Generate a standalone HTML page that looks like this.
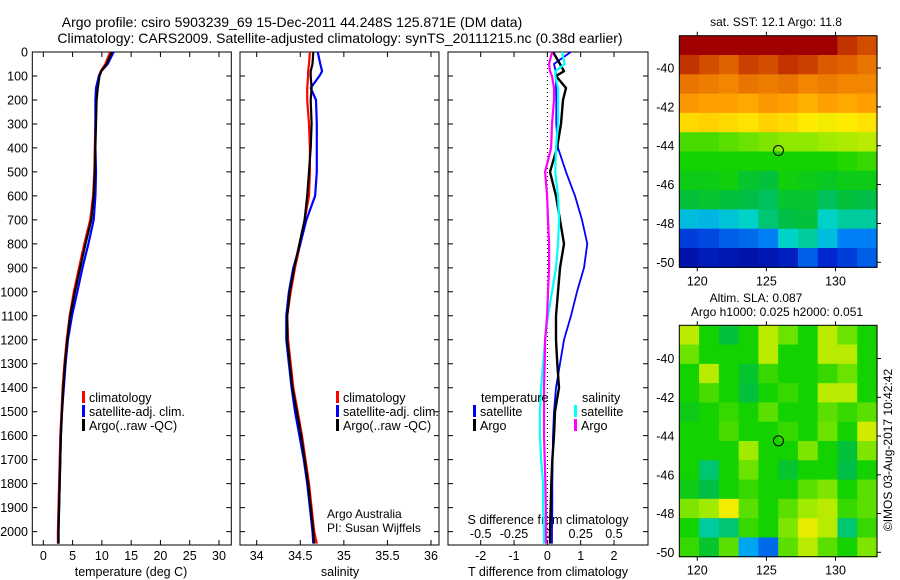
<!DOCTYPE html>
<html><head><meta charset="utf-8"><style>
body{margin:0;background:#fff}
svg{display:block;font-family:"Liberation Sans",sans-serif}
</style></head><body>
<svg id="c" width="900" height="580" viewBox="0 0 900 580" xmlns="http://www.w3.org/2000/svg">
<text x="292" y="27" font-size="14" text-anchor="middle">Argo profile: csiro 5903239_69 15-Dec-2011 44.248S 125.871E (DM data)</text>
<text x="340" y="43" font-size="14" text-anchor="middle">Climatology: CARS2009. Satellite-adjusted climatology: synTS_20111215.nc (0.38d earlier)</text>
<text x="776" y="26" font-size="12" text-anchor="middle">sat. SST: 12.1 Argo: 11.8</text>
<text x="756" y="302" font-size="12" text-anchor="middle">Altim. SLA: 0.087</text>
<text x="777" y="316" font-size="12" text-anchor="middle">Argo h1000: 0.025 h2000: 0.051</text>
<text transform="translate(892,450) rotate(-90)" font-size="12" text-anchor="middle">©IMOS 03-Aug-2017 10:42:42</text>
<text x="327" y="518" font-size="12">Argo Australia</text>
<text x="327" y="532" font-size="12">PI: Susan Wijffels</text>
</svg>
<script>
const depths=[0,50,80,100,150,200,300,400,500,600,700,800,900,1000,1100,1200,1300,1400,1500,1600,1700,1800,1900,2000,2050];
const tempClim=[11.4,10.6,9.8,9.5,9.1,9.0,8.9,8.8,8.7,8.5,8.0,7.0,6.1,5.2,4.5,4.0,3.6,3.3,3.1,2.9,2.8,2.7,2.6,2.5,2.5];
const tempSat=[12.0,11.0,9.9,9.5,9.0,8.9,8.9,8.9,9.0,8.9,8.6,7.7,6.7,5.8,4.9,4.2,3.8,3.5,3.2,3.0,2.9,2.8,2.7,2.6,2.6];
const tempArgo=[11.7,10.8,9.9,9.6,9.3,9.1,9.0,8.9,8.8,8.6,8.2,7.2,6.3,5.4,4.6,4.1,3.7,3.4,3.2,3.0,2.9,2.8,2.7,2.6,2.6];
const salClim=[34.61,34.6,34.59,34.59,34.58,34.58,34.6,34.61,34.61,34.6,34.55,34.5,34.44,34.39,34.35,34.36,34.39,34.42,34.47,34.52,34.56,34.6,34.63,34.66,34.69];
const salSat=[34.7,34.73,34.75,34.72,34.62,34.68,34.69,34.69,34.69,34.67,34.57,34.5,34.42,34.37,34.34,34.34,34.37,34.4,34.44,34.49,34.54,34.58,34.61,34.64,34.65];
const salArgo=[34.65,34.64,34.62,34.62,34.63,34.62,34.63,34.62,34.6,34.58,34.55,34.49,34.43,34.38,34.35,34.35,34.38,34.41,34.46,34.51,34.55,34.59,34.62,34.65,34.66];
const dTsat=[0.7,0.2,0.25,0.26,0.26,0.27,0.27,0.32,0.56,0.83,1.04,1.2,1.1,0.89,0.71,0.5,0.38,0.26,0.2,0.17,0.16,0.15,0.15,0.14,0.14];
const dTargo=[0.17,0.38,0.5,0.26,0.56,0.47,0.41,0.29,0.08,0.26,0.38,0.5,0.38,0.32,0.26,0.26,0.3,0.35,0.23,0.2,0.15,0.12,0.1,0.08,0.08];
const dSsat=[0.11,0.13,0.06,0.06,0.08,0.08,0.08,0.065,0.06,0.08,0.088,0.08,0.065,0.035,0.005,-0.017,-0.032,-0.047,-0.055,-0.055,-0.047,-0.032,-0.032,-0.025,-0.025];
const dSargo=[0.035,0.013,0.02,0.035,0.05,0.05,0.035,0.028,-0.017,-0.002,0.005,0.013,0.013,0.005,-0.002,-0.017,-0.02,-0.025,-0.025,-0.025,-0.02,-0.015,-0.012,-0.01,-0.01];
const depthTicks=[0,100,200,300,400,500,600,700,800,900,1000,1100,1200,1300,1400,1500,1600,1700,1800,1900,2000];
const tempTicks=[0,5,10,15,20,25,30];
const salTicks=[34,34.5,35,35.5,36];
const dTTicks=[-2,-1,0,1,2];
const dSTicks=[-0.5,-0.25,0,0.25,0.5];
const lonTicks=[120,125,130];
const sstLatTicks=[-40,-42,-44,-46,-48,-50];
const slaLatTicks=[-40,-42,-44,-46,-48,-50];
const argoLon=125.871, argoLat=-44.248;
const sstGrid=[
[8,8,8,8,8,8,8,8,7.6,7.4],
[7.6,7.4,7.2,7.5,7.4,7.6,7.5,7.3,7.2,7],
[7,6.9,6.8,7,6.9,7,6.8,6.9,6.8,6.8],
[6.6,6.5,6.5,6.4,6.6,6.5,6.3,6.5,6.4,6.5],
[5.8,5.9,5.8,5.7,5.9,5.8,5.6,5.5,5.6,5.7],
[4.3,4.3,4.4,4.5,4.6,4.7,4.7,4.8,4.9,5.0],
[4,4,4,4,4,4,4,4,4.1,4.2],
[3.8,3.8,3.9,3.6,3.5,3.9,3.8,3.7,3.8,3.8],
[3.5,3.6,3.5,3.4,3.3,3.6,3.6,3.3,3.5,3.4],
[2.5,2.4,2.6,2.8,3.2,3.4,3.5,2.8,3,3],
[1.2,1.3,1.5,1.6,1.8,2.8,3,2.5,1.8,1.8],
[0.5,0.7,0.6,0.5,0.6,0.8,1.5,1,1.2,1.5]];
const slaGrid=[
[5,4,3.5,4,5,4.5,4,5,4.5,4],
[4.5,4,4,4,5,4,4,5,5,4],
[4,5,4,3.6,4.2,4,4,4.2,4.5,4],
[4,4.3,4,3.5,4,4.2,4,5,5,4],
[3.8,4,4.2,4,4.4,4,4,4.4,4.2,4.4],
[4,4,4.3,4,4,4.2,4,4.5,4,5.2],
[4,4,4,4.8,4,4,4.6,4,3.5,4.6],
[4,3.2,4,4.5,4,3.6,4,4,3.4,4],
[3.8,3.4,4,4.2,4,4,4.4,4.6,4,4.4],
[4.6,4.8,5.5,4.4,4,4.4,4.8,5,4.2,4.4],
[4,3,3.2,4.2,4,4.6,5.4,5,3.2,4.2],
[4.2,3.6,4.4,2.2,1.6,4.4,5,4.4,4,4.6]];

const NS='http://www.w3.org/2000/svg';
const svg=document.getElementById('c');
function mk(tag,attrs,parent){const e=document.createElementNS(NS,tag);for(const k in attrs)e.setAttribute(k,attrs[k]);(parent||svg).appendChild(e);return e;}
const Y0=52,Y1=545;
const yD=d=>Y0+d*0.2398;
function lin(v0,p0,v1,p1){return v=>p0+(v-v0)*(p1-p0)/(v1-v0);}
const xT=lin(0,43.3,30,219);
const xS=lin(34,256.7,36,431);
const xdT=lin(-2,480.7,2,614);
const xdS=lin(-0.5,480.7,0.5,614);

function frame(x0,x1,name){
  const r=mk('rect',{x:x0,y:Y0,width:x1-x0,height:Y1-Y0,fill:'none',stroke:'#000','stroke-width':1});
  
  
  depthTicks.forEach(d=>{const y=yD(d);
    const t=mk('path',{d:`M${x0} ${y}h5M${x1} ${y}h-5`,stroke:'#000'});
    
    });
}
function xticks(x0,x1,ticks,fx,name,labelY){
  ticks.forEach(v=>{const x=fx(v);
    const t=mk('path',{d:`M${x} ${Y1}v-5M${x} ${Y0}v5`,stroke:'#000'});
    
    
    const l=mk('text',{x:x,y:labelY,'font-size':12.5,'text-anchor':'middle'});l.textContent=(v<0?'-':'')+String(Math.abs(v));
    
    
  });
}
function line(xs,fx,color,name,w){
  const pts=depths.map((d,i)=>fx(xs[i]).toFixed(1)+','+yD(d).toFixed(1)).join(' ');
  const p=mk('polyline',{points:pts,fill:'none',stroke:color,'stroke-width':w||2.2,'stroke-linejoin':'round'});
  
  
}
function label(x,y,txt,name,size,anchor){const t=mk('text',{x:x,y:y,'font-size':size||12.5,'text-anchor':anchor||'start'});t.textContent=txt;
  
  return t;}
function key(x,y,color,txt,name){
  const r=mk('rect',{x:x,y:y-11,width:3,height:12,fill:color});
  
  
  label(x+7,y,txt,name);
}

frame(32.3,231.3,'temperature-panel');
depthTicks.forEach(d=>{label(28,yD(d)+4.5,String(d),'depth-label',12.5,'end');});
xticks(32,231,tempTicks,xT,'temperature-x',560);
label(131,576,'temperature (deg C)','temperature-axis-title',12.5,'middle');
line(tempClim,xT,'#f00','temperature-climatology-line');
line(tempSat,xT,'#00f','temperature-satellite-line');
line(tempArgo,xT,'#000','temperature-argo-line');
key(82,402,'#f00','climatology','legend-climatology');
key(82,416,'#00f','satellite-adj. clim.','legend-satellite-adj');
key(82,430,'#000','Argo(..raw -QC)','legend-argo');

frame(240,439,'salinity-panel');
xticks(240,439,salTicks,xS,'salinity-x',560);
label(340,576,'salinity','salinity-axis-title',12.5,'middle');
line(salClim,xS,'#f00','salinity-climatology-line');
line(salSat,xS,'#00f','salinity-satellite-line');
line(salArgo,xS,'#000','salinity-argo-line');
key(336,402,'#f00','climatology','legend-climatology-2');
key(336,416,'#00f','satellite-adj. clim.','legend-satellite-adj-2');
key(336,430,'#000','Argo(..raw -QC)','legend-argo-2');

frame(448,648,'difference-panel');
xticks(448,648,dTTicks,xdT,'t-diff-x',560);
dSTicks.forEach(v=>{label(xdS(v),538,(v<0?'-':'')+String(Math.abs(v)),'s-diff-label',12.5,'middle');});
label(548,524,'S difference from climatology','s-diff-axis-title',12.5,'middle');
label(548,576,'T difference from climatology','t-diff-axis-title',12.5,'middle');
const zl=mk('line',{x1:xdT(0),x2:xdT(0),y1:Y0,y2:Y1,stroke:'#000','stroke-dasharray':'1,3'});


line(dTsat,xdT,'#00f','t-diff-satellite-line',1.8);
line(dTargo,xdT,'#000','t-diff-argo-line',2.4);
line(dSsat,xdS,'#0ff','s-diff-satellite-line',2.2);
line(dSargo,xdS,'#f0f','s-diff-argo-line',2.2);
label(481,402,'temperature','legend-temperature-heading');
label(582,402,'salinity','legend-salinity-heading');
key(473,416,'#00f','satellite','legend-t-satellite');
key(473,430,'#000','Argo','legend-t-argo');
key(574,416,'#0ff','satellite','legend-s-satellite');
key(574,430,'#f0f','Argo','legend-s-argo');

const cstops=[[0,[0,0,130]],[1,[0,40,210]],[2,[0,150,255]],[2.8,[0,210,200]],[3.4,[0,190,70]],[4,[20,210,0]],[4.8,[160,235,0]],[5.6,[255,235,0]],[6.5,[255,160,0]],[7.3,[220,90,0]],[8,[160,0,0]]];
function cmap(v){for(let i=1;i<cstops.length;i++){if(v<=cstops[i][0]){const a=cstops[i-1],b=cstops[i];const t=(v-a[0])/(b[0]-a[0]);return 'rgb('+a[1].map((c,k)=>Math.round(c+(b[1][k]-c)*t)).join(',')+')';}}return 'rgb(160,0,0)';}

function map(grid,x0,x1,y0,y1,lon0,lon1,fLat,latTicks,name){
  const g=mk('g',{});
  
  
  const rows=grid.length,cols=grid[0].length,cw=(x1-x0)/cols,ch=(y1-y0)/rows;
  grid.forEach((row,r)=>row.forEach((v,c)=>{
    const cell=mk('rect',{x:(x0+c*cw).toFixed(2),y:(y0+r*ch).toFixed(2),width:(cw+0.6).toFixed(2),height:(ch+0.6).toFixed(2),fill:cmap(v)},g);
    
    
  }));
  const fLon=lin(lon0,x0,lon1,x1);
  const fr=mk('rect',{x:x0,y:y0,width:x1-x0,height:y1-y0,fill:'none',stroke:'#000'});
  
  
  lonTicks.forEach(v=>{const x=fLon(v);
    const t=mk('path',{d:`M${x} ${y0}v-4M${x} ${y1}v4`,stroke:'#000'});
    
    
    label(x,y1+18,String(v),'lon-label',12.5,'middle');});
  latTicks.forEach(v=>{const y=fLat(v);
    const t=mk('path',{d:`M${x1} ${y}h4`,stroke:'#000'});
    
    
    label(x0-5,y+4.5,'-'+Math.abs(v),'lat-label',12.5,'end');});
  const m=mk('circle',{cx:fLon(argoLon),cy:fLat(argoLat),r:5,fill:'none',stroke:'#000'});
  
  
}
map(sstGrid,679.3,877,35.7,267.3,118.7,133,lin(-40,68,-50,262.3),sstLatTicks,'sst-map');
map(slaGrid,679.3,877,325.3,556.7,118.7,133,lin(-42,397.3,-50,552.3),slaLatTicks,'sla-map');
</script>
</body></html>
